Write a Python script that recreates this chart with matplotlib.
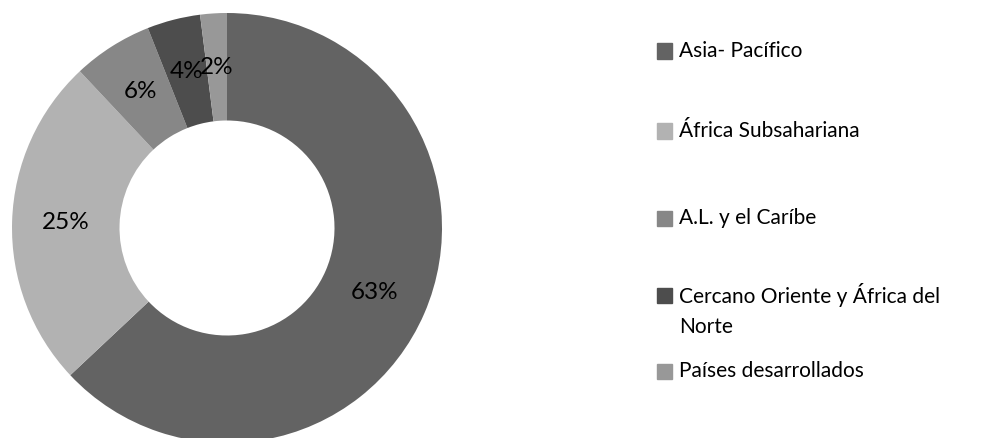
import matplotlib
matplotlib.use("Agg")
import matplotlib.pyplot as plt
from matplotlib.patches import Rectangle

labels = ["Asia- Pacífico", "África Subsahariana", "A.L. y el Caríbe",
          "Cercano Oriente y África del\nNorte", "Países desarrollados"]
values = [63, 25, 6, 4, 2]
colors = ["#636363", "#b2b2b2", "#878787", "#4d4d4d", "#989898"]

plt.rcParams['font.family'] = ['Lato', 'DejaVu Sans']

W, H = 986, 438
fig = plt.figure(figsize=(W / 100, H / 100), dpi=100)
cx, cy, r = 227, 228, 215
ax = fig.add_axes([(cx - r) / W, (H - cy - r) / H, 2 * r / W, 2 * r / H])
wedges, texts, autotexts = ax.pie(
    values, colors=colors, startangle=90, counterclock=False,
    autopct=lambda p: f"{p:.0f}%", pctdistance=0.75,
    wedgeprops=dict(width=0.5, edgecolor='none'),
    textprops=dict(fontsize=17.5, color='#000000'))
for w in wedges:
    w.set_clip_on(False)
ax.set_xlim(-1, 1)
ax.set_ylim(-1, 1)
ax.set_aspect('equal')
ax.axis('off')

# legend (manual layout)
leg_y = [51, 131, 218, 295, 371]
sq_x0, sq = 657, 15
tx = 679
for lab, col, yy in zip(labels, colors, leg_y):
    fig.patches.append(Rectangle((sq_x0 / W, (H - yy - sq / 2) / H), sq / W, sq / H,
                                 transform=fig.transFigure, color=col))
    if '\n' in lab:
        fig.text(tx / W, (H - yy + 12) / H, lab, fontsize=15, color='#000000',
                 va='top', ha='left', linespacing=1.6)
    else:
        fig.text(tx / W, (H - yy) / H, lab, fontsize=15, color='#000000',
                 va='center', ha='left')

fig.savefig("out.png", dpi=100)
